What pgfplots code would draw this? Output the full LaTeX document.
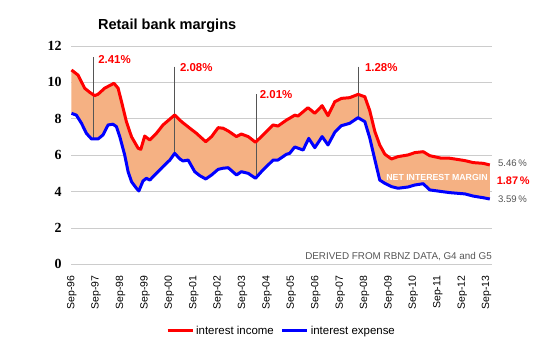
\documentclass[border=0pt]{standalone}
\usepackage{pgfplots}
\pgfplotsset{compat=1.18}
\usepackage{pgfplotstable}
\usepgfplotslibrary{fillbetween}
\usepackage{fontspec}
\setmainfont{Liberation Sans}
\newfontfamily\serifb{Liberation Serif}
\definecolor{fillc}{HTML}{F5B183}
\definecolor{gridc}{HTML}{CCCCCC}
\definecolor{txtgray}{HTML}{555555}

\pgfplotstableread{
x y
1996.74 10.68
1997.01 10.40
1997.28 9.68
1997.49 9.45
1997.69 9.27
1997.83 9.35
1998.10 9.68
1998.48 9.95
1998.65 9.68
1998.79 8.94
1998.99 7.84
1999.20 7.01
1999.47 6.38
1999.58 6.32
1999.74 7.05
1999.95 6.83
2000.22 7.20
2000.49 7.66
2000.97 8.21
2001.25 7.84
2001.59 7.48
2001.86 7.20
2002.24 6.74
2002.48 7.02
2002.75 7.51
2002.95 7.48
2003.16 7.33
2003.50 7.02
2003.70 7.16
2003.98 7.02
2004.28 6.71
2004.52 7.02
2005.00 7.66
2005.20 7.60
2005.55 7.93
2005.68 8.03
2005.89 8.20
2006.02 8.15
2006.43 8.61
2006.71 8.30
2007.01 8.72
2007.25 8.17
2007.53 8.94
2007.80 9.12
2008.14 9.16
2008.48 9.34
2008.76 9.21
2008.96 8.45
2009.17 7.30
2009.37 6.56
2009.58 6.05
2009.85 5.79
2010.12 5.92
2010.53 6.01
2010.81 6.14
2011.15 6.19
2011.42 5.97
2011.90 5.83
2012.24 5.83
2012.86 5.70
2013.20 5.59
2013.61 5.55
2013.88 5.46
}\income

\pgfplotstableread{
x y
1996.74 8.30
1996.94 8.20
1997.15 7.75
1997.35 7.20
1997.56 6.89
1997.83 6.89
1998.03 7.11
1998.24 7.66
1998.44 7.70
1998.58 7.57
1998.72 7.01
1998.92 6.01
1999.06 5.09
1999.20 4.54
1999.40 4.18
1999.50 4.03
1999.67 4.58
1999.81 4.73
1999.95 4.63
2000.22 5.00
2000.49 5.37
2000.77 5.73
2000.97 6.10
2001.18 5.79
2001.31 5.68
2001.52 5.73
2001.79 5.09
2002.00 4.87
2002.24 4.69
2002.48 4.91
2002.75 5.22
2002.95 5.28
2003.16 5.31
2003.50 4.91
2003.70 5.09
2003.98 5.00
2004.28 4.73
2004.52 5.09
2005.00 5.73
2005.20 5.73
2005.55 6.05
2005.68 6.10
2005.89 6.45
2006.23 6.28
2006.46 6.92
2006.71 6.41
2007.01 7.02
2007.25 6.56
2007.53 7.26
2007.80 7.62
2008.14 7.75
2008.48 8.06
2008.76 7.84
2008.96 6.95
2009.17 5.75
2009.37 4.63
2009.58 4.45
2009.85 4.27
2010.12 4.18
2010.53 4.25
2010.81 4.36
2011.15 4.43
2011.42 4.09
2011.90 4.00
2012.24 3.94
2012.86 3.87
2013.20 3.75
2013.61 3.66
2013.88 3.59
}\expense

\begin{document}
\begin{tikzpicture}
\begin{axis}[
  at={(0,0)}, anchor=south west, scale only axis,
  width=421bp, height=218.3bp,
  xmin=1996.72, xmax=2013.97, ymin=0, ymax=12,
  clip=false,
  axis line style={draw=none},
  major tick length=0pt,
  ymajorgrids, grid style={gridc, line width=0.8bp},
  ytick={0,2,4,6,8,10,12},
  xtick={1996.75,1997.75,1998.75,1999.75,2000.75,2001.75,2002.75,2003.75,2004.75,2005.75,2006.75,2007.75,2008.75,2009.75,2010.75,2011.75,2012.75,2013.75},
  xticklabels={Sep-96,Sep-97,Sep-98,Sep-99,Sep-00,Sep-01,Sep-02,Sep-03,Sep-04,Sep-05,Sep-06,Sep-07,Sep-08,Sep-09,Sep-10,Sep-11,Sep-12,Sep-13},
  xticklabel style={rotate=90, anchor=east, font=\fontsize{10.5}{12}\selectfont, xshift=-8bp},
  yticklabel style={font=\serifb\bfseries\fontsize{14}{14}\selectfont, xshift=-6bp},
  /pgf/number format/assume math mode=true,
  legend columns=2,
  legend style={at={(0.5,-0.3055)}, anchor=center, draw=none, fill=none,
    font=\fontsize{11.5}{13}\selectfont,
    /tikz/every even column/.append style={column sep=5bp}},
  legend image code/.code={\draw[#1, line width=3bp] (0bp,0bp) -- (25bp,0bp);},
]
\addplot[draw=none, name path=inc, forget plot] table {\income};
\addplot[draw=none, name path=exp, forget plot] table {\expense};
\addplot[fill=fillc, draw=none, forget plot] fill between[of=inc and exp];

\addplot[txtgray, line width=0.8bp, forget plot] coordinates {(1997.64,11.38) (1997.64,6.89)};
\addplot[txtgray, line width=0.8bp, forget plot] coordinates {(2000.97,10.86) (2000.97,6.10)};
\addplot[txtgray, line width=0.8bp, forget plot] coordinates {(2004.30,9.35) (2004.30,4.73)};
\addplot[txtgray, line width=0.8bp, forget plot] coordinates {(2008.48,10.86) (2008.48,8.06)};

\addplot[red, line width=3bp, line join=round] table {\income};
\addlegendentry{interest income}
\addplot[blue, line width=3bp, line join=round] table {\expense};
\addlegendentry{interest expense}

\node[anchor=base, font=\bfseries\fontsize{14.6}{16}\selectfont] at (axis cs:2000.66,12.88) {Retail bank margins};

\node[anchor=base west, text=red, font=\bfseries\fontsize{11.5}{12}\selectfont, inner sep=0pt] at (axis cs:1997.83,11.05) {2.41\%};
\node[anchor=base west, text=red, font=\bfseries\fontsize{11.5}{12}\selectfont, inner sep=0pt] at (axis cs:2001.18,10.59) {2.08\%};
\node[anchor=base west, text=red, font=\bfseries\fontsize{11.5}{12}\selectfont, inner sep=0pt] at (axis cs:2004.45,9.13) {2.01\%};
\node[anchor=base west, text=red, font=\bfseries\fontsize{11.5}{12}\selectfont, inner sep=0pt] at (axis cs:2008.76,10.59) {1.28\%};

\node[anchor=base west, text=txtgray, font=\fontsize{9.6}{11}\selectfont, inner sep=0pt] at (axis cs:2014.21,5.37) {5.46\,\%};
\node[anchor=base west, text=red, font=\bfseries\fontsize{11}{12}\selectfont, inner sep=0pt] at (axis cs:2014.16,4.36) {1.87\,\%};
\node[anchor=base west, text=txtgray, font=\fontsize{9.6}{11}\selectfont, inner sep=0pt] at (axis cs:2014.21,3.42) {3.59\,\%};

\node[anchor=base east, text=white, font=\bfseries\fontsize{8.8}{10}\selectfont, inner sep=0pt] at (axis cs:2013.80,4.60) {NET INTEREST MARGIN};
\node[anchor=base east, text=txtgray, font=\fontsize{9.9}{11}\selectfont, inner sep=0pt] at (axis cs:2013.97,0.29) {DERIVED FROM RBNZ DATA, G4 and G5};
\end{axis}
\pgfresetboundingbox
\path[use as bounding box] (-71bp,-78.7bp) rectangle (479bp,264.3bp);
\end{tikzpicture}
\end{document}
